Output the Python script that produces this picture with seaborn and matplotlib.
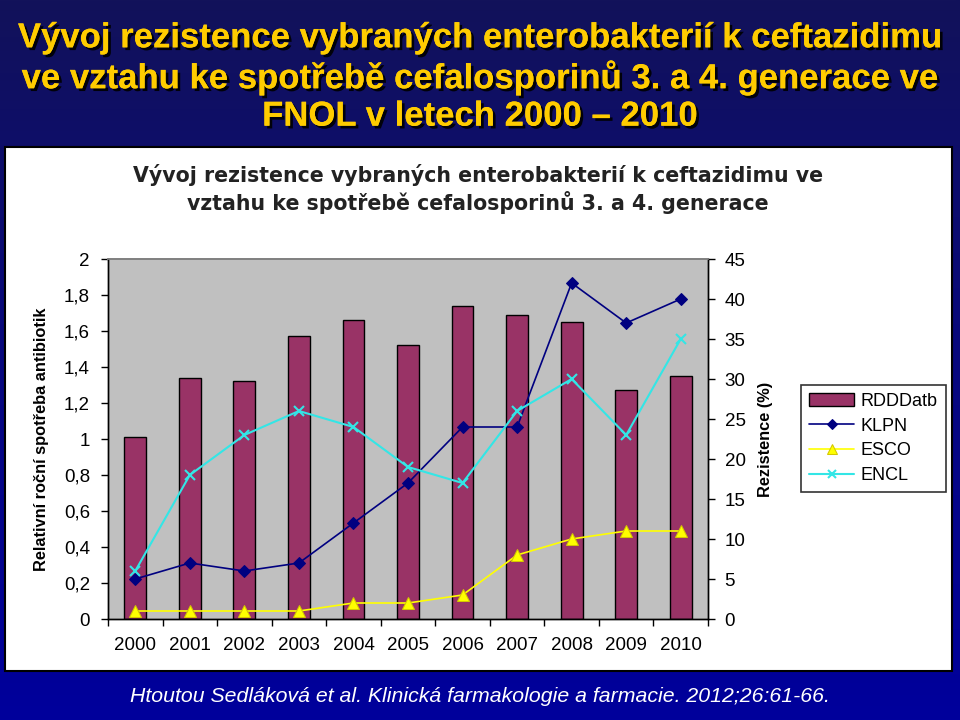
import numpy as np
import pandas as pd
import matplotlib
matplotlib.use('Agg')
import matplotlib.pyplot as plt
import matplotlib.patheffects as pe
from matplotlib.patches import Rectangle
from matplotlib.colors import LinearSegmentedColormap
from matplotlib.ticker import FixedLocator, FuncFormatter
import seaborn as sns

# data
years = ['2000', '2001', '2002', '2003', '2004', '2005', '2006', '2007', '2008', '2009', '2010']
rdd_atb = [1.01, 1.34, 1.32, 1.57, 1.66, 1.52, 1.74, 1.69, 1.65, 1.27, 1.35]
klpn = [5, 7, 6, 7, 12, 17, 24, 24, 42, 37, 40]
esco = [1, 1, 1, 1, 2, 2, 3, 8, 10, 11, 11]
encl = [6, 18, 23, 26, 24, 19, 17, 26, 30, 23, 35]

slide_title = ('Vývoj rezistence vybraných enterobakterií k ceftazidimu\n'
               've vztahu ke spotřebě cefalosporinů 3. a 4. generace ve\n'
               'FNOL v letech 2000 – 2010')
chart_title = ('Vývoj rezistence vybraných enterobakterií k ceftazidimu ve\n'
               'vztahu ke spotřebě cefalosporinů 3. a 4. generace')
citation = 'Htoutou Sedláková et al. Klinická farmakologie a farmacie. 2012;26:61-66.'

sns.set_theme(style='white', rc={'text.color': 'black', 'axes.labelcolor': 'black',
                                 'xtick.color': 'black', 'ytick.color': 'black'})
plt.rcParams['font.family'] = ['Liberation Sans', 'DejaVu Sans']

fig = plt.figure(figsize=(9.6, 7.2), dpi=100)

# slide background
bg = fig.add_axes([0, 0, 1, 1], zorder=-10)
grad = np.linspace(0, 1, 256).reshape(-1, 1)
cmap = LinearSegmentedColormap.from_list('bg', ['#12125a', '#08087e', '#00009c'])
bg.imshow(grad, aspect='auto', cmap=cmap, extent=[0, 1, 0, 1], origin='upper')
bg.set_xlim(0, 1)
bg.set_ylim(0, 1)
bg.add_patch(Rectangle((5 / 960, 1 - 671 / 720), 947 / 960, 524 / 720,
                       transform=bg.transAxes, facecolor='white', edgecolor='black', lw=1.5))
bg.axis('off')

df = pd.DataFrame({'rok': years, 'RDDDatb': rdd_atb})
pos = np.arange(len(years))

ax = fig.add_axes([108 / 960, 1 - 619 / 720, 600 / 960, 360 / 720])
ax.set_facecolor('#c0c0c0')
sns.barplot(data=df, x='rok', y='RDDDatb', color='#993366', saturation=1, width=0.4,
            edgecolor='black', linewidth=1, ax=ax, label='RDDDatb')
if ax.get_legend() is not None:
    ax.get_legend().remove()

ax2 = ax.twinx()
sns.lineplot(x=pos, y=klpn, color='#000080', marker='D', markersize=6,
             markeredgecolor='#000080', linewidth=1.2, ax=ax2, label='KLPN')
sns.lineplot(x=pos, y=esco, color='#ffff00', marker='^', markersize=9,
             markeredgecolor='#d4c800', linewidth=1.2, ax=ax2, label='ESCO')
sns.lineplot(x=pos, y=encl, color='#33e6e6', marker='x', markersize=7,
             markeredgewidth=1.5, markeredgecolor='#33e6e6', linewidth=1.5, ax=ax2, label='ENCL')

ax.set_xlim(-0.5, 10.5)
ax.set_ylim(0, 2)
ax2.set_ylim(0, 45)
ax.set_yticks(np.arange(0, 2.01, 0.2))
ax.yaxis.set_major_formatter(FuncFormatter(lambda v, _: f'{round(v, 1):g}'.replace('.', ',')))
ax2.set_yticks(range(0, 46, 5))

ax.xaxis.set_minor_locator(FixedLocator(np.arange(-0.5, 11, 1)))
ax.tick_params(axis='x', which='major', length=0, pad=13, labelsize=13.5)
ax.tick_params(axis='x', which='minor', bottom=True, length=5, width=1, color='black')
ax.tick_params(axis='y', left=True, length=5, width=1, pad=8, labelsize=13.5)
ax2.tick_params(axis='y', right=True, length=5, width=1, pad=7, labelsize=13.5)

ax.set_xlabel('')
ax.set_ylabel('Relativní roční spotřeba antibiotik', fontweight='bold', fontsize=11.8)
ax.yaxis.set_label_coords(-0.098, 0.5)
ax2.set_ylabel('Rezistence (%)', fontweight='bold', fontsize=11.8, labelpad=9)

for a in (ax, ax2):
    for side in ('left', 'bottom', 'right'):
        a.spines[side].set_color('black')
        a.spines[side].set_linewidth(1)
    a.spines['top'].set_color('#808080')

# legend with all series
h1, l1 = ax.get_legend_handles_labels()
h2, l2 = ax2.get_legend_handles_labels()
ax2.legend(h1 + h2, l1 + l2, loc='upper left', bbox_to_anchor=(801 / 960, 1 - 385 / 720),
           bbox_transform=fig.transFigure, frameon=True, fancybox=False, edgecolor='black',
           fontsize=13, handlelength=2.5, handletextpad=0.35, borderpad=0.45,
           labelspacing=0.42, borderaxespad=0, markerscale=0.8)
ax2.get_legend().get_frame().set_linewidth(1.2)

fig.text(0.498, 1 - 189 / 720, chart_title, ha='center', va='center', fontsize=14.8,
         fontweight='bold', family=['DejaVu Sans'], color='#222222', linespacing=1.25)

fig.text(0.5, 1 - 77 / 720, slide_title, ha='center', va='center', fontsize=25,
         fontweight='bold', color='#ffcc00', linespacing=1.17,
         path_effects=[pe.withSimplePatchShadow(offset=(2, -2), shadow_rgbFace='black', alpha=0.9),
                       pe.Normal()])

fig.text(0.5, 1 - 697 / 720, citation, ha='center', va='center', fontsize=15.3,
         style='italic', color='white')

fig.savefig('out.png', dpi=100)
